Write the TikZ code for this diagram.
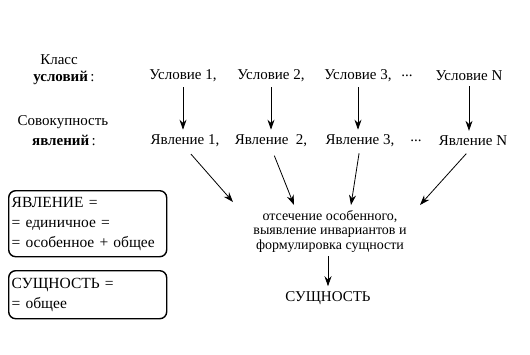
\documentclass[tikz,border=0pt]{standalone}
\usepackage{fontspec}
\setmainfont{Liberation Serif}
\usetikzlibrary{arrows.meta}

\begin{document}
\begin{tikzpicture}[x=1pt, y=-1pt, >={Stealth[length=10pt,width=7pt]},
    lbl/.style={inner sep=0pt, font=\fontsize{15}{17}\selectfont},
    item/.style={inner sep=0pt, font=\fontsize{15}{17}\selectfont},
    defbox/.style={draw, line width=1.4pt, rounded corners=7pt, anchor=north west,
        align=left, text width=152pt, inner xsep=3pt, inner ysep=0pt,
        font=\fontsize{15.5}{20}\selectfont},
    link/.style={->, line width=0.8pt}]
    \useasboundingbox (0,0) rectangle (530,354);
    % left labels
    \node[lbl] (klass) at (59,60) {Класс};
    \node[lbl] (uslov) at (64,78) {\textbf{условий}\,:};
    \node[lbl] (sovok) at (63,122) {Совокупность};
    \node[lbl] (yavl) at (64,140) {\textbf{явлений}\,:};
    % conditions
    \node[item] (u1) at (183,76) {Условие 1,};
    \node[item] (u2) at (271,76) {Условие 2,};
    \node[item] (u3) at (358,76) {Условие 3,};
    \node[item] (udots) at (407,76) {...};
    \node[item] (uN) at (469,76) {Условие N};
    % phenomena
    \node[item] (y1) at (185,141) {Явление 1,};
    \node[item] (y2) at (271,141) {Явление~~2,};
    \node[item] (y3) at (360,141) {Явление 3,};
    \node[item] (ydots) at (416,141) {...};
    \node[item] (yN) at (473,141) {Явление N};
    \foreach \a/\b in {u1/y1,u2/y2,u3/y3,uN/yN}
        \draw[link, shorten <=5pt, shorten >=5pt] (\a.south) -- (\a.south |- \b.north);
    % abstraction step
    \node[inner sep=0pt, align=center, font=\fontsize{14}{14.5}\selectfont] (proc) at (330,231)
        {отсечение особенного,\\выявление инвариантов и\\формулировка сущности};
    \node[item] (esse) at (328,298) {СУЩНОСТЬ};
    \coordinate (in1) at (233,202);
    \coordinate (in2) at (294,205);
    \coordinate (in3) at (351,205);
    \coordinate (in4) at (420,205);
    \draw[link, shorten <=9pt] (y1.south) -- (in1);
    \draw[link, shorten <=9pt] (y2.south) -- (in2);
    \draw[link, shorten <=6pt] (y3.south) -- (in3);
    \draw[link, shorten <=10pt] (yN.south) -- (in4);
    \draw[link, shorten <=4pt, shorten >=5pt] (proc.south -| esse.north) -- (esse.north);
    % definitions
    \node[defbox, minimum height=66pt] (defyav) at (8,190)
        {ЯВЛЕНИЕ =\\= единичное =\\= особенное + общее};
    \node[defbox, minimum height=48pt] (defsush) at (8,270)
        {СУЩНОСТЬ =\\= общее};
\end{tikzpicture}
\end{document}
